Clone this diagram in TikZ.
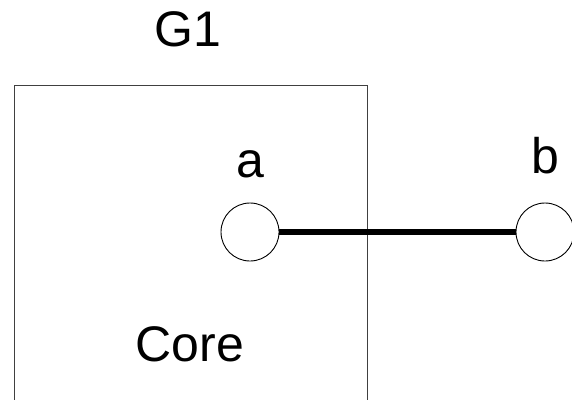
\documentclass[tikz,border=0pt]{standalone}
\usepackage{fontspec}
\setmainfont{Liberation Sans}
\usetikzlibrary{positioning}
\tikzset{port/.style={draw,circle,fill=white,minimum size=58pt,inner sep=0pt,line width=0.9pt},
  lbl/.style={anchor=base,inner sep=0pt,font=\fontsize{50}{58}\selectfont}}

\begin{document}
\begin{tikzpicture}[x=1pt,y=-1pt]
    \useasboundingbox (0,0) rectangle (572,399);
    \clip (0,0) rectangle (572,399);
    % the group box
    \draw[line width=1pt,draw=black!75] (14,420) |- (367,85) -- (367,420);
    \node[lbl] (g1) at (188,46) {G1};
    \node[lbl] (core) at (190,361) {Core};
    % the two ports and the link
    \node[port] (a) at (250,232) {};
    \node[port] (b) at (545,232) {};
    \draw[line width=5.5pt] (a) -- (b);
    \node[lbl] (la) at (250,177) {a};
    \node[lbl] (lb) at (545,173) {b};
\end{tikzpicture}
\end{document}
